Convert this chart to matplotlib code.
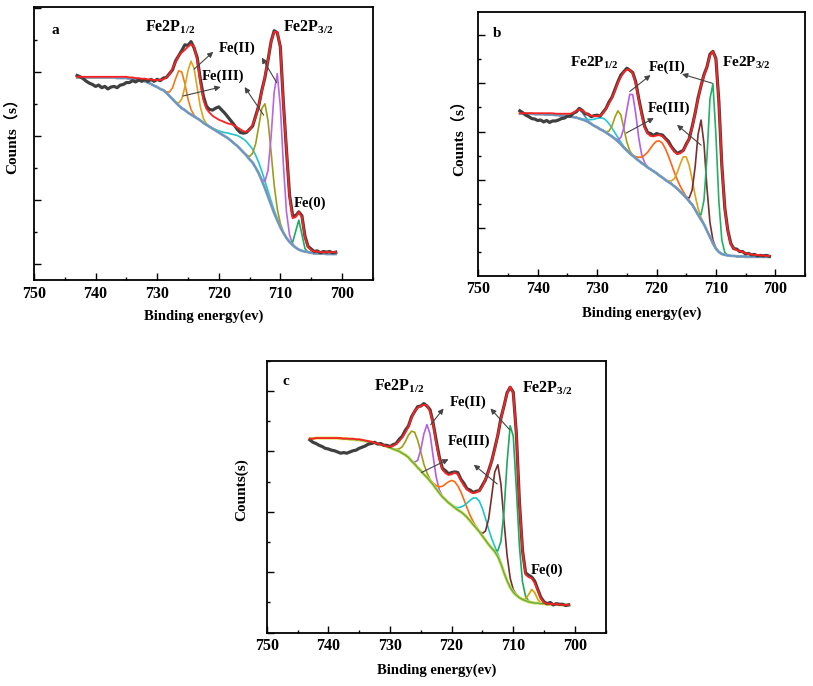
#!/usr/bin/env python3
"""Fe 2p XPS spectra (panels a, b, c) with fitted components."""

import numpy as np
import matplotlib
matplotlib.use('Agg')
import matplotlib.pyplot as plt
from matplotlib.ticker import MultipleLocator

plt.rcParams['font.family'] = ['Liberation Serif', 'Noto Sans CJK SC']
plt.rcParams['font.weight'] = 'bold'
plt.rcParams['mathtext.fontset'] = 'custom'
plt.rcParams['mathtext.rm'] = 'Liberation Serif:bold'
plt.rcParams['mathtext.bf'] = 'Liberation Serif:bold'
plt.rcParams['mathtext.it'] = 'Liberation Serif:bold'

# binding energy grid, 743 -> 701 eV in 0.5 eV steps (85 points)
ENERGY = np.arange(743.0, 700.9, -0.5)

# ---------------- panel a ----------------
BG_A = [2.92, 2.92, 2.92, 2.92, 2.92, 2.92, 2.92, 2.92, 2.92, 2.92,
        2.92, 2.92, 2.92, 2.91, 2.91, 2.91, 2.91, 2.90, 2.90, 2.89,
        2.88, 2.87, 2.86, 2.84, 2.82, 2.79, 2.77, 2.74, 2.72, 2.68,
        2.63, 2.58, 2.53, 2.48, 2.44, 2.41, 2.37, 2.34, 2.31, 2.28,
        2.25, 2.21, 2.18, 2.15, 2.12, 2.09, 2.06, 2.03, 2.00, 1.97,
        1.93, 1.89, 1.85, 1.80, 1.75, 1.70, 1.64, 1.59, 1.51, 1.42,
        1.31, 1.19, 1.06, 0.93, 0.80, 0.69, 0.58, 0.49, 0.41, 0.35,
        0.30, 0.26, 0.23, 0.21, 0.20, 0.19, 0.18, 0.17, 0.17, 0.17,
        0.17, 0.16, 0.16, 0.16, 0.16]
FIT_A = [2.93, 2.93, 2.93, 2.93, 2.93, 2.93, 2.93, 2.93, 2.93, 2.93,
         2.93, 2.93, 2.93, 2.93, 2.93, 2.93, 2.93, 2.92, 2.92, 2.91,
         2.91, 2.90, 2.90, 2.89, 2.89, 2.88, 2.88, 2.88, 2.89, 2.92,
         2.97, 3.06, 3.16, 3.26, 3.31, 3.35, 3.40, 3.44, 3.40, 3.20,
         2.85, 2.57, 2.43, 2.37, 2.32, 2.29, 2.26, 2.24, 2.22, 2.20,
         2.19, 2.17, 2.14, 2.11, 2.08, 2.07, 2.10, 2.18, 2.30, 2.48,
         2.70, 2.94, 3.18, 3.48, 3.63, 3.63, 3.40, 2.50, 1.80, 1.05,
         0.72, 0.74, 0.82, 0.74, 0.42, 0.27, 0.22, 0.20, 0.20, 0.19,
         0.19, 0.19, 0.19, 0.19, 0.19]
RESID_A = [0.02, 0.00, -0.03, -0.07, -0.10, -0.12, -0.15, -0.13, -0.17, -0.15,
           -0.19, -0.16, -0.15, -0.17, -0.13, -0.12, -0.09, -0.08, -0.05, -0.06,
           -0.03, -0.04, -0.01, -0.03, 0.00, -0.02, 0.01, -0.01, 0.02, 0.00,
           0.01, -0.02, 0.02, 0.00, 0.03, 0.08, 0.02, 0.04, -0.02, 0.03,
           0.05, 0.06, 0.04, 0.05, 0.09, 0.15, 0.20, 0.17, 0.14, 0.10,
           0.05, 0.01, -0.03, -0.05, -0.03, -0.01, 0.01, -0.02, 0.02, 0.00,
           0.02, -0.02, 0.01, 0.00, 0.02, -0.01, 0.00, 0.02, -0.02, 0.03,
           0.04, 0.02, 0.00, 0.02, 0.02, 0.01, 0.02, 0.00, 0.01, -0.01,
           0.01, 0.00, 0.01, -0.01, 0.00]
CENTERS_A = [726.2, 724.4, 715.2, 712.45, 710.5, 707.0]
HEIGHTS_A = [0.58, 0.84, 0.22, 1.32, 2.29, 0.46]
FWHM_A = [2.0, 2.0, 5.5, 2.3, 1.9, 1.1]

# ---------------- panel b ----------------
BG_B = [2.37, 2.37, 2.37, 2.37, 2.37, 2.36, 2.36, 2.36, 2.36, 2.35,
        2.35, 2.35, 2.34, 2.34, 2.33, 2.33, 2.32, 2.31, 2.30, 2.29,
        2.27, 2.25, 2.23, 2.20, 2.16, 2.12, 2.09, 2.05, 2.02, 1.98,
        1.94, 1.90, 1.85, 1.80, 1.74, 1.67, 1.61, 1.55, 1.50, 1.45,
        1.40, 1.35, 1.31, 1.26, 1.22, 1.18, 1.14, 1.09, 1.05, 1.00,
        0.96, 0.92, 0.87, 0.82, 0.76, 0.70, 0.63, 0.56, 0.49, 0.39,
        0.28, 0.18, 0.08, -0.05, -0.18, -0.31, -0.42, -0.49, -0.53, -0.55,
        -0.56, -0.57, -0.57, -0.58, -0.58, -0.58, -0.59, -0.59, -0.59, -0.59,
        -0.59, -0.59, -0.59, -0.59, -0.59]
FIT_B = [2.38, 2.38, 2.38, 2.38, 2.38, 2.38, 2.38, 2.38, 2.38, 2.38,
         2.38, 2.38, 2.37, 2.37, 2.37, 2.37, 2.37, 2.37, 2.39, 2.43,
         2.46, 2.44, 2.39, 2.35, 2.33, 2.32, 2.32, 2.33, 2.38, 2.48,
         2.58, 2.70, 2.84, 3.01, 3.13, 3.23, 3.28, 3.28, 3.20, 3.00,
         2.67, 2.35, 2.08, 1.96, 1.91, 1.90, 1.92, 1.93, 1.90, 1.84,
         1.76, 1.67, 1.58, 1.54, 1.55, 1.61, 1.72, 1.86, 2.08, 2.38,
         2.68, 2.96, 3.16, 3.34, 3.58, 3.66, 3.50, 2.60, 1.30, 0.40,
         -0.05, -0.33, -0.42, -0.45, -0.47, -0.49, -0.51, -0.53, -0.54, -0.55,
         -0.55, -0.56, -0.56, -0.57, -0.57]
RESID_B = [0.05, 0.01, -0.04, -0.07, -0.11, -0.12, -0.15, -0.14, -0.18, -0.15,
           -0.19, -0.16, -0.15, -0.13, -0.10, -0.09, -0.05, -0.05, -0.01, -0.02,
           0.02, 0.00, -0.02, 0.01, -0.02, 0.01, 0.02, -0.01, 0.02, 0.00,
           0.03, 0.01, 0.03, 0.02, 0.04, 0.01, 0.03, -0.01, 0.02, 0.03,
           0.02, 0.04, 0.03, 0.02, 0.05, 0.02, 0.04, 0.01, 0.03, 0.02,
           0.04, 0.02, 0.03, 0.01, 0.03, 0.00, 0.02, -0.01, 0.02, 0.00,
           0.02, -0.01, 0.02, 0.00, 0.02, 0.00, 0.01, 0.02, 0.00, 0.02,
           0.01, 0.02, 0.00, 0.02, -0.01, 0.01, -0.02, 0.01, -0.01, 0.01,
           -0.02, 0.00, -0.01, 0.01, -0.01]
CENTERS_B = [733.0, 728.8, 726.3, 724.2, 719.3, 715.05, 712.5, 710.6]
HEIGHTS_B = [0.18, 0.26, 0.65, 1.30, 0.72, 0.85, 2.06, 3.33]
FWHM_B = [1.8, 3.5, 1.9, 2.0, 4.0, 2.5, 1.8, 1.7]

# ---------------- panel c ----------------
BG_C = [2.21, 2.21, 2.22, 2.22, 2.22, 2.22, 2.22, 2.22, 2.22, 2.22,
        2.21, 2.21, 2.21, 2.20, 2.20, 2.19, 2.19, 2.18, 2.17, 2.16,
        2.15, 2.14, 2.13, 2.11, 2.10, 2.08, 2.06, 2.04, 2.02, 2.00,
        1.97, 1.94, 1.90, 1.84, 1.79, 1.73, 1.68, 1.62, 1.57, 1.51,
        1.45, 1.38, 1.31, 1.25, 1.20, 1.15, 1.11, 1.07, 1.03, 1.00,
        0.96, 0.91, 0.85, 0.79, 0.73, 0.67, 0.60, 0.53, 0.46, 0.40,
        0.34, 0.26, 0.14, -0.01, -0.14, -0.25, -0.33, -0.38, -0.42, -0.45,
        -0.47, -0.49, -0.50, -0.51, -0.51, -0.52, -0.52, -0.53, -0.53, -0.53,
        -0.53, -0.54, -0.54, -0.54, -0.54]
FIT_C = [2.21, 2.21, 2.22, 2.22, 2.22, 2.22, 2.22, 2.22, 2.22, 2.22,
         2.22, 2.21, 2.21, 2.21, 2.21, 2.20, 2.20, 2.19, 2.18, 2.17,
         2.16, 2.14, 2.13, 2.11, 2.10, 2.08, 2.08, 2.09, 2.12, 2.17,
         2.23, 2.31, 2.41, 2.55, 2.67, 2.72, 2.75, 2.77, 2.76, 2.66,
         2.45, 2.14, 1.88, 1.70, 1.64, 1.61, 1.62, 1.65, 1.62, 1.52,
         1.43, 1.37, 1.33, 1.31, 1.32, 1.35, 1.42, 1.54, 1.66, 1.84,
         2.03, 2.28, 2.53, 2.75, 2.96, 3.07, 2.96, 2.30, 1.15, 0.35,
         -0.04, -0.08, -0.10, -0.18, -0.30, -0.44, -0.50, -0.52, -0.52, -0.53,
         -0.53, -0.53, -0.54, -0.54, -0.54]
RESID_C = [-0.02, -0.06, -0.09, -0.12, -0.14, -0.17, -0.18, -0.20, -0.21, -0.23,
           -0.25, -0.23, -0.24, -0.22, -0.20, -0.18, -0.15, -0.12, -0.09, -0.05,
           -0.03, 0.01, -0.01, 0.02, 0.00, 0.02, 0.00, 0.02, 0.01, 0.03,
           0.02, 0.04, 0.01, 0.02, -0.01, 0.02, 0.00, 0.02, -0.01, 0.03,
           0.02, 0.04, 0.03, 0.02, 0.04, 0.02, 0.03, 0.01, 0.03, 0.02,
           0.04, 0.01, 0.03, 0.01, 0.02, 0.00, 0.02, -0.01, 0.02, 0.00,
           0.02, -0.01, 0.02, 0.00, 0.01, -0.01, 0.02, 0.00, 0.02, 0.01,
           0.03, 0.03, 0.02, 0.03, 0.01, 0.02, 0.01, 0.00, 0.02, -0.01,
           0.01, 0.00, 0.01, -0.01, 0.00]
CENTERS_C = [726.1, 723.9, 719.55, 715.7, 712.5, 710.3, 706.9]
HEIGHTS_C = [0.53, 0.88, 0.43, 0.51, 1.52, 2.75, 0.22]
FWHM_C = [2.5, 1.9, 3.4, 3.4, 2.2, 2.0, 1.3]

SUB12 = r'Fe2P$_{\mathbf{1/2}}$'
SUB32 = r'Fe2P$_{\mathbf{3/2}}$'

# style / layout (kept apart from the data)
COLORS_A = ['#f07a1a', '#d9a520', '#22c4cc', '#9e9a1c', '#b766e0', '#1aaa60']
COLORS_B = ['#4a88c8', '#22c8d6', '#a3a017', '#b35fe8', '#ff6414', '#dba21a',
            '#7b2f2f', '#22b164']
COLORS_C = ['#a09c14', '#b45ee0', '#ff6a10', '#18c8cc', '#7a2c2c', '#1fa860',
            '#d9a100']
BG_STYLE_A = [('#a0a8b0', 2.0), ('#5b97cf', 1.1)]
BG_STYLE_B = [('#a0a8b0', 2.0), ('#5b97cf', 1.1)]
BG_STYLE_C = [('#d8dc5c', 2.2), ('#5eb040', 1.0)]

LABELS_A = [('a', 746.6, 3.66, 11), (SUB12, 727.9, 3.71, 11.5),
            (SUB32, 705.4, 3.71, 11.5), ('Fe(II)', 717.0, 3.375, 10.5),
            ('Fe(III)', 719.3, 2.94, 10.5), ('Fe(0)', 705.15, 0.96, 10.5)]
ARROWS_A = [((724.0, 3.05), (720.9, 3.32)), ((710.6, 2.84), (713.0, 3.23)),
            ((725.8, 2.63), (719.7, 2.77)), ((712.7, 2.33), (715.8, 2.77))]
LABELS_B = [('b', 746.8, 4.03, 11), (SUB12, 730.5, 3.41, 11),
            (SUB32, 704.85, 3.41, 11), ('Fe(II)', 718.2, 3.34, 10.5),
            ('Fe(III)', 717.9, 2.48, 10.5)]
ARROWS_B = [((724.5, 2.83), (721.0, 3.17)), ((710.6, 3.0), (715.7, 3.19)),
            ((725.1, 1.97), (720.45, 2.28)), ((712.5, 1.72), (716.55, 2.14))]
LABELS_C = [('c', 746.85, 3.16, 11), (SUB12, 728.5, 3.07, 11.5),
            (SUB32, 704.4, 3.05, 11.5), ('Fe(II)', 717.4, 2.81, 10.5),
            ('Fe(III)', 717.2, 2.17, 10.5), ('Fe(0)', 704.5, 0.04, 10.5)]
ARROWS_C = [((723.4, 2.44), (721.3, 2.71)), ((710.6, 2.36), (713.7, 2.71)),
            ((724.9, 1.65), (720.5, 1.87)), ((712.6, 1.46), (716.4, 1.78))]


def component(bg, center, height, fwhm):
    return bg + height * np.exp(-4 * np.log(2) * (ENERGY - center) ** 2 / fwhm ** 2)


def draw_panel(ax, bg, fit, resid, centers, heights, widths, colors, bg_style,
               labels, arrows, ylim, ylabel, ylab_pos, xlab_y):
    bg = np.array(bg)
    fit = np.array(fit)
    raw = fit + np.array(resid)

    for c, h, w, col in zip(centers, heights, widths, colors):
        ax.plot(ENERGY, component(bg, c, h, w), color=col, lw=1.2, zorder=3)
    # background drawn over the component feet
    for col, lw in bg_style:
        ax.plot(ENERGY, bg, color=col, lw=lw, zorder=3.5)
    ax.plot(ENERGY, raw, color='#404040', lw=2.3, zorder=4)
    ax.plot(ENERGY, fit, color='#ff2020', lw=1.3, zorder=5)

    for txt, x, y, size in labels:
        ax.text(x, y, txt, fontsize=size, fontweight='bold', ha='center',
                va='center', zorder=6)
    for tail, head in arrows:
        ax.annotate('', xy=head, xytext=tail, zorder=6,
                    arrowprops=dict(arrowstyle='-|>', color='#444444', lw=0.8,
                                    mutation_scale=8, shrinkA=0, shrinkB=0))

    ax.set_xlim(750, 695)
    ax.set_ylim(*ylim)
    ax.xaxis.set_major_locator(MultipleLocator(10))
    ax.xaxis.set_minor_locator(MultipleLocator(5))
    ax.yaxis.set_major_locator(MultipleLocator(1))
    ax.yaxis.set_minor_locator(MultipleLocator(0.5))
    ax.tick_params(axis='both', which='both', direction='in', top=False,
                   right=False, width=1.0)
    ax.tick_params(which='major', length=5)
    ax.tick_params(which='minor', length=2.5)
    ax.tick_params(axis='x', labelsize=11.5, pad=4)
    ax.tick_params(axis='y', labelleft=False)
    for lab in ax.get_xticklabels():
        lab.set_fontweight('bold')
    for sp in ax.spines.values():
        sp.set_linewidth(1.3)

    ax.set_xlabel('Binding energy(ev)', fontsize=10.5, fontweight='bold')
    ax.xaxis.set_label_coords(0.5, xlab_y)
    ax.xaxis.label.set_va('center')
    ax.set_ylabel(ylabel, fontsize=11, fontweight='bold')
    ax.yaxis.set_label_coords(*ylab_pos)
    ax.yaxis.label.set_va('center')


def main():
    fig = plt.figure(figsize=(8.13, 6.86), dpi=100)
    W, H = 813, 686

    def box(l, r, t, b):
        return [l / W, 1 - b / H, (r - l) / W, (b - t) / H]

    ax_a = fig.add_axes(box(34, 372.7, 7.3, 280))
    ax_b = fig.add_axes(box(478.3, 805, 11.7, 275.7))
    ax_c = fig.add_axes(box(266.7, 605.7, 360.7, 632.7))

    draw_panel(ax_a, BG_A, FIT_A, RESID_A, CENTERS_A, HEIGHTS_A, FWHM_A,
               COLORS_A, BG_STYLE_A, LABELS_A, ARROWS_A, (-0.245, 4.016),
               'Counts（s）', (-0.066, 0.54), -0.132)
    draw_panel(ax_b, BG_B, FIT_B, RESID_B, CENTERS_B, HEIGHTS_B, FWHM_B,
               COLORS_B, BG_STYLE_B, LABELS_B, ARROWS_B, (-0.98, 4.48),
               'Counts（s）', (-0.062, 0.534), -0.141)
    draw_panel(ax_c, BG_C, FIT_C, RESID_C, CENTERS_C, HEIGHTS_C, FWHM_C,
               COLORS_C, BG_STYLE_C, LABELS_C, ARROWS_C, (-1.0, 3.50),
               'Counts(s)', (-0.074, 0.525), -0.137)

    fig.savefig('out.png', dpi=100, facecolor='white')
    plt.close(fig)


if __name__ == "__main__":
    main()
